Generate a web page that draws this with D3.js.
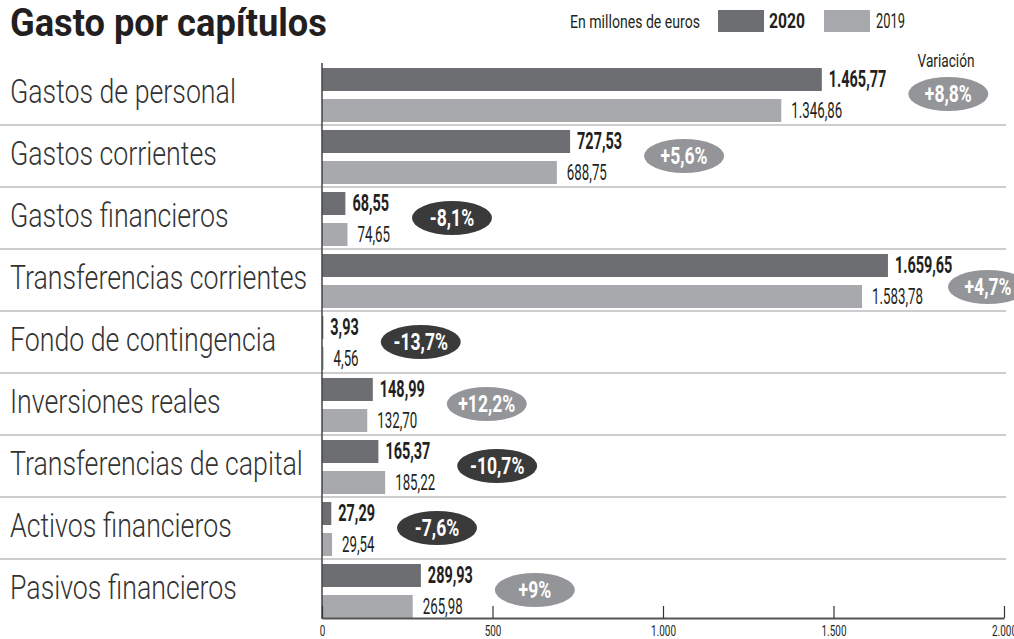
<!DOCTYPE html>
<html><head><meta charset="utf-8">
<script src="https://cdn.jsdelivr.net/npm/d3@7"></script>
<style>
body{margin:0;background:#fff;}
svg{display:block;font-family:Roboto,"Noto Sans",sans-serif;}
</style></head><body>
<svg id="c" width="1014" height="639"></svg>
<script>
const categories = ["Gastos de personal","Gastos corrientes","Gastos financieros","Transferencias corrientes","Fondo de contingencia","Inversiones reales","Transferencias de capital","Activos financieros","Pasivos financieros"];
const values2020 = [1465.77,727.53,68.55,1659.65,3.93,148.99,165.37,27.29,289.93];
const values2019 = [1346.86,688.75,74.65,1583.78,4.56,132.70,185.22,29.54,265.98];
const variation = [8.8,5.6,-8.1,4.7,-13.7,12.2,-10.7,-7.6,9];
const series = ["2020","2019"];
const xTicks = [0,500,1000,1500,2000];

const svg = d3.select("#c");
const W = 1014, H = 639;
const c2020 = "#6d6e71", c2019 = "#a7a9ac", ink = "#231f20";

const fmt = d3.formatLocale({decimal:",",thousands:".",grouping:[3],currency:["","€"],minus:"-"});
const fVal = fmt.format(",.2f");
const fTick = fmt.format(",d");
const fVar = v => (v>0?"+":"") + fmt.format(",")(v) + "%";

function measure(str,size,weight){
  const t = svg.append("text").attr("font-size",size).attr("font-weight",weight).text(str);
  const w = t.node().getComputedTextLength(); t.remove(); return w;
}
function squeeze(str,size,weight,target){ return target/measure(str,size,weight); }
function txt(parent,x,y,str,o){
  return parent.append("text").attr("transform",`translate(${x},${y}) scale(${o.s},1)`)
    .attr("font-size",o.size).attr("font-weight",o.weight||"normal").attr("fill",o.fill||ink)
    .attr("text-anchor",o.anchor||"start").text(str);
}

const x = d3.scaleLinear().domain([0,2000]).range([322,1004]);
const y = d3.scaleBand().domain(categories).range([63,621]);
const ys = d3.scaleBand().domain(series).range([5,59]).paddingInner(8/31).paddingOuter(0);

// style factors
const sTitle = squeeze("Gasto por capítulos",39,"bold",317);
const sCat = squeeze("Gastos de personal",33,300,226);
const sV20 = squeeze("727,53",24,"bold",45);
const sV19 = squeeze("688,75",22,"normal",40);
const sVar = squeeze("+5,6%",23,"bold",47);
const sSmall = squeeze("En millones de euros",18,"normal",130);

// Title
txt(svg,10,36,"Gasto por capítulos",{s:sTitle,size:39,weight:"bold"});

// Legend
txt(svg,570,28,"En millones de euros",{s:sSmall,size:18});
svg.append("rect").attr("x",718).attr("y",10).attr("width",46).attr("height",22).attr("fill",c2020);
txt(svg,769,28,"2020",{s:squeeze("2020",20,"bold",36),size:20,weight:"bold"});
svg.append("rect").attr("x",824).attr("y",10).attr("width",46).attr("height",22).attr("fill",c2019);
txt(svg,876,28,"2019",{s:squeeze("2019",20,"normal",29),size:20});
txt(svg,946,67,"Variación",{s:squeeze("Variación",19,"normal",57),size:19,anchor:"middle"});

// Separators
svg.append("g").selectAll("line").data(categories.slice(1)).join("line")
  .attr("x1",0).attr("x2",1006).attr("y1",d=>y(d)).attr("y2",d=>y(d))
  .attr("stroke","#cdcdcd").attr("stroke-width",2);

// Category labels
categories.forEach(c=>txt(svg,10,y(c)+40,c,{s:sCat,size:33,weight:300,fill:"#333"}));

// Bars
const rows = categories.map((c,i)=>({c, v:{"2020":values2020[i],"2019":values2019[i]}, varv:variation[i]}));
const gRow = svg.append("g").selectAll("g").data(rows).join("g").attr("transform",d=>`translate(0,${y(d.c)})`);
series.forEach(s=>{
  gRow.append("rect").attr("x",x(0)).attr("y",ys(s)).attr("width",d=>x(d.v[s])-x(0)).attr("height",ys.bandwidth())
    .attr("fill",s==="2020"?c2020:c2019);
});

gRow.each(function(d){
  const g = d3.select(this);
  let maxEnd = 0;
  series.forEach(s=>{
    const bold = s==="2020";
    const size = bold?24:22, sc = bold?sV20:sV19, w = bold?"bold":"normal";
    const lx = x(d.v[s])+(bold?7:10);
    txt(g,lx,ys(s)+ys.bandwidth()/2+(bold?7:7),fVal(d.v[s]),{s:sc,size,weight:w});
    maxEnd = Math.max(maxEnd, lx + measure(fVal(d.v[s]),size,w)*sc);
  });
  let cx = maxEnd + 22 + 40, cy = y.bandwidth()/2;
  if (cx > W-26){ cx = W-26; cy += 7; }
  g.append("ellipse").attr("cx",cx).attr("cy",cy).attr("rx",40).attr("ry",17)
    .attr("fill",d.varv>0?"#939598":"#3a3a3b");
  txt(g,cx,cy+8,fVar(d.varv),{s:sVar,size:23,weight:"bold",fill:"#fff",anchor:"middle"});
});

// Axes
svg.append("line").attr("x1",x(0)).attr("x2",x(0)).attr("y1",63).attr("y2",619).attr("stroke","#444").attr("stroke-width",1.5);
const ax = d3.axisBottom(x).tickValues(xTicks).tickFormat(fTick).tickSizeInner(-12).tickSizeOuter(0).tickPadding(8);
const gA = svg.append("g").attr("transform","translate(0,618)").call(ax);
gA.select(".domain").attr("stroke","#555").attr("stroke-width",2);
gA.selectAll(".tick line").attr("stroke","#333").attr("stroke-width",1.2);
const sTick = squeeze("1.000",14,"normal",25);
gA.selectAll(".tick text").attr("font-size",14).attr("fill",ink).attr("font-family","Roboto,sans-serif")
  .attr("transform",`scale(${sTick},1)`);
</script></body></html>
